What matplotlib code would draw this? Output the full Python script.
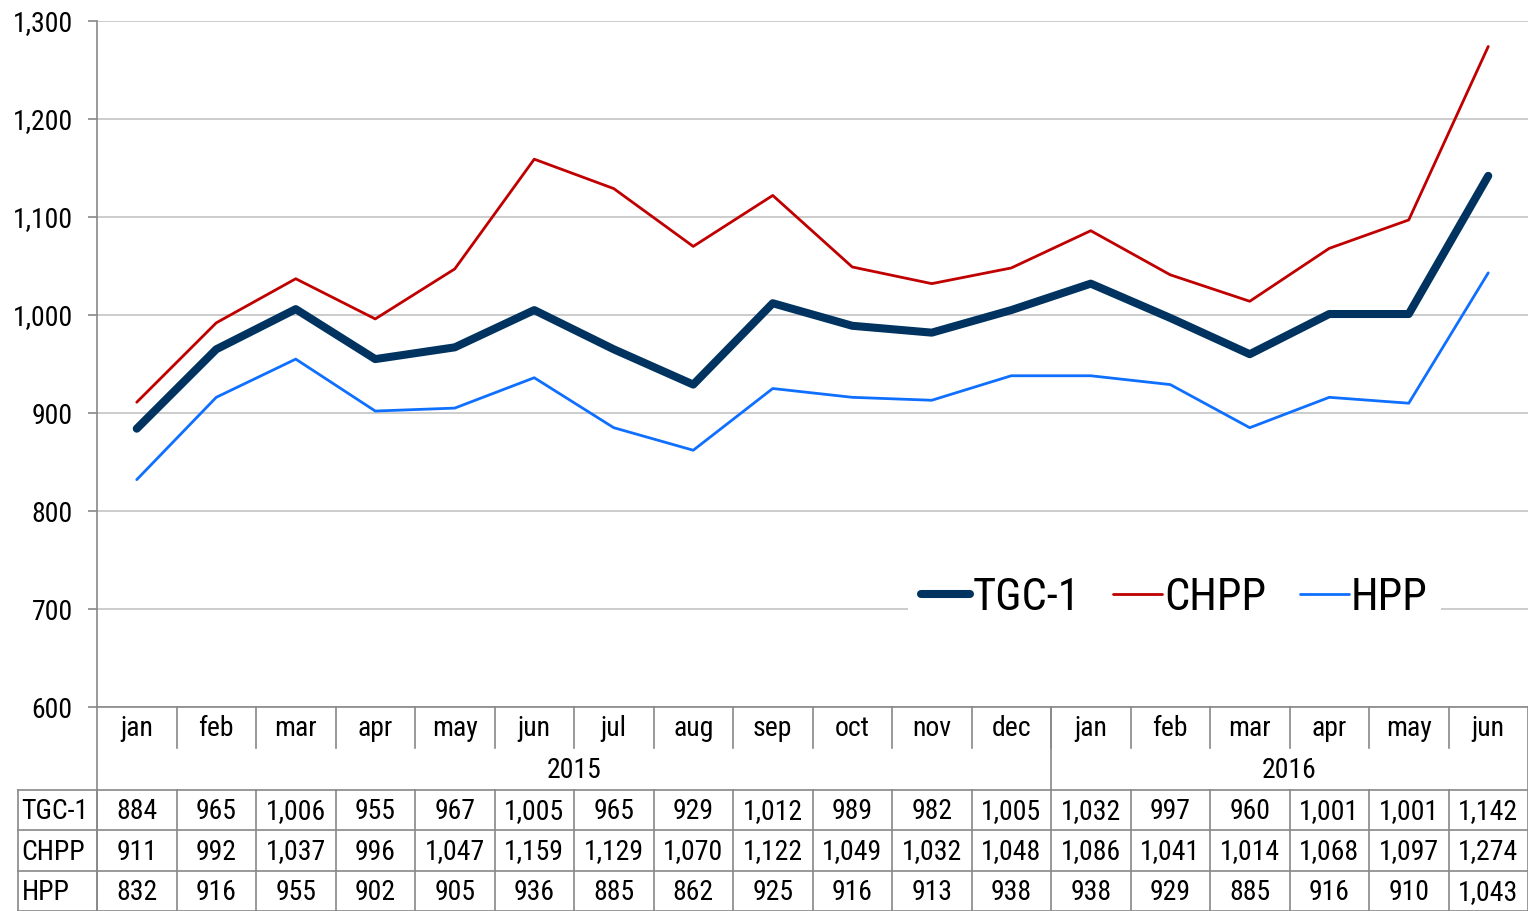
import matplotlib
matplotlib.use('Agg')
import matplotlib.pyplot as plt
import matplotlib.transforms as mtransforms
from matplotlib import font_manager
import numpy as np

# use a narrow sans if one is installed, like the Arial Narrow look of the original
wanted = ['Liberation Sans Narrow', 'Arial Narrow', 'Roboto Condensed',
          'Noto Sans Condensed', 'Open Sans Condensed', 'DejaVu Sans Condensed']
have = {f.name for f in font_manager.fontManager.ttflist}
narrow = [n for n in wanted if n in have]
if not narrow:
    narrow = sorted(f.name for f in font_manager.fontManager.ttflist
                    if ('Narrow' in f.name or 'Condensed' in f.name) and 'Sans' in f.name
                    and f.weight in (400, 'normal', 'regular'))
fams = ['Liberation Sans', 'DejaVu Sans']
if narrow:
    fams = [narrow[0]] + fams
plt.rcParams['font.family'] = fams
base = 20 if narrow else 17

months = ['jan', 'feb', 'mar', 'apr', 'may', 'jun', 'jul', 'aug', 'sep', 'oct', 'nov', 'dec',
          'jan', 'feb', 'mar', 'apr', 'may', 'jun']
years = ['2015', '2016']
year_counts = [12, 6]
series_names = ['TGC-1', 'CHPP', 'HPP']
tgc1 = [884, 965, 1006, 955, 967, 1005, 965, 929, 1012, 989, 982, 1005,
        1032, 997, 960, 1001, 1001, 1142]
chpp = [911, 992, 1037, 996, 1047, 1159, 1129, 1070, 1122, 1049, 1032, 1048,
        1086, 1041, 1014, 1068, 1097, 1274]
hpp = [832, 916, 955, 902, 905, 936, 885, 862, 925, 916, 913, 938,
       938, 929, 885, 916, 910, 1043]

series = [tgc1, chpp, hpp]
colors = ['#00335f', '#c00000', '#0f6fff']
widths = [5.8, 2.0, 2.0]

W, H = 1528, 911
fig = plt.figure(figsize=(W / 100, H / 100), dpi=100)
ax = fig.add_axes([97 / W, 204 / H, 1431 / W, 686 / H])

x = np.arange(len(months))
for vals, name, c, lw in zip(series, series_names, colors, widths):
    ax.plot(x, vals, color=c, lw=lw, label=name, solid_capstyle='round',
            solid_joinstyle='round', zorder=3)

ax.set_xlim(-0.5, len(months) - 0.5)
ax.set_ylim(600, 1300)
ax.set_yticks(np.arange(600, 1301, 100))
ax.set_yticklabels([f'{v:,}' for v in range(600, 1301, 100)], fontsize=base)
ax.set_xticks([])
ax.grid(axis='y', color='#c8c8c8', lw=1.3, zorder=0)
ax.tick_params(axis='y', length=6.5, width=1.2, color='#888888', pad=11)
for s in ['top', 'right']:
    ax.spines[s].set_visible(False)
ax.spines['left'].set_color('#888888')
ax.spines['bottom'].set_color('#888888')
ax.spines['left'].set_linewidth(1.2)
ax.spines['bottom'].set_linewidth(1.2)

leg = ax.legend(loc='center', bbox_to_anchor=(0.753, 0.159), ncol=3,
                fontsize=32 if narrow else 27,
                frameon=True, edgecolor='none', facecolor='white', framealpha=1,
                handlelength=1.1, handletextpad=0.05, columnspacing=0.75,
                borderpad=0.3, fancybox=False)
leg.set_zorder(5)

# data table below the plot
trans = mtransforms.blended_transform_factory(ax.transData, ax.transAxes)
ph = 686.0
def yy(px):
    return -px / ph

gl = dict(color='#888888', lw=1.2, transform=trans, clip_on=False)
n = len(months)
# month labels row
for i, m in enumerate(months):
    ax.text(i, yy(22), m, ha='center', va='center', fontsize=base, transform=trans)
for i in range(n - 1):
    ax.plot([i + 0.5, i + 0.5], [yy(0), yy(41)], **gl)
# year row
start = 0
for yr, cnt in zip(years, year_counts):
    ax.text(start + (cnt - 1) / 2, yy(63), yr, ha='center', va='center', fontsize=base,
            transform=trans)
    if start > 0:
        ax.plot([start - 0.5, start - 0.5], [yy(0), yy(83)], **gl)
    start += cnt
ax.plot([-0.5, -0.5], [yy(0), yy(204)], **gl)
ax.plot([n - 0.5, n - 0.5], [yy(0), yy(204)], **gl)
# value rows
row_tops = [83, 123, 164]
row_h = [40, 41, 40]
for r, (name, vals) in enumerate(zip(series_names, series)):
    top = row_tops[r]
    cy = top + row_h[r] / 2 + 1.5
    ax.plot([-1.5, n - 0.5], [yy(top), yy(top)], **gl)
    ax.text(-1.45, yy(cy), name, ha='left', va='center', fontsize=base, transform=trans)
    for i, v in enumerate(vals):
        ax.text(i, yy(cy), f'{v:,}', ha='center', va='center', fontsize=base, transform=trans)
for i in range(-1, n - 1):
    ax.plot([i + 0.5, i + 0.5], [yy(83), yy(204)], **gl)
ax.plot([-1.5, -1.5], [yy(83), yy(204)], **gl)
ax.plot([-1.5, n - 0.5], [yy(203.5), yy(203.5)], **gl)

fig.savefig('out.png', dpi=100)
